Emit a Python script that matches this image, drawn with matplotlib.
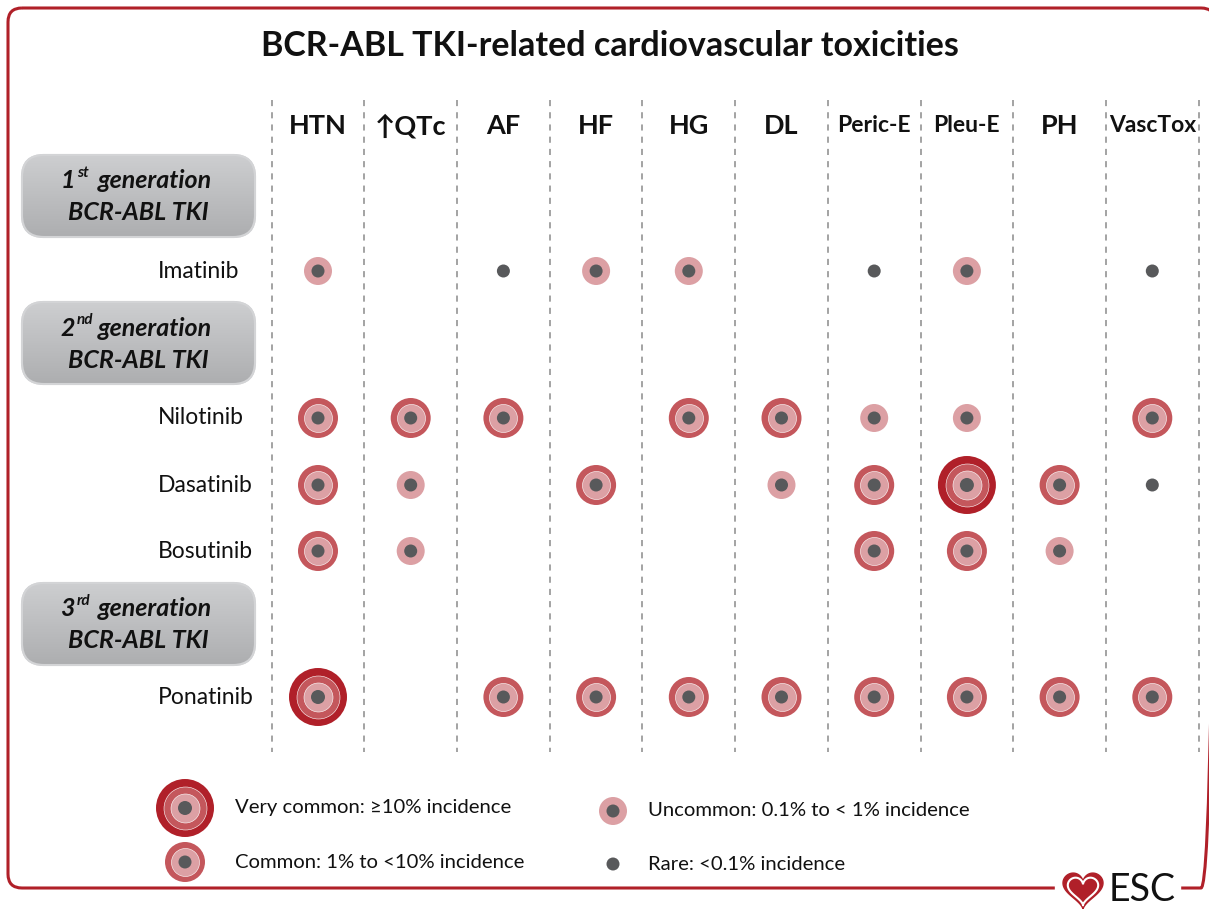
import numpy as np
import matplotlib.pyplot as plt
from matplotlib.patches import FancyBboxPatch, Rectangle, Polygon
from matplotlib.colors import LinearSegmentedColormap

plt.rcParams['font.family'] = ['Lato', 'DejaVu Sans']

drugs = ['Imatinib', 'Nilotinib', 'Dasatinib', 'Bosutinib', 'Ponatinib']
toxicities = ['HTN', '\u2191QTc', 'AF', 'HF', 'HG', 'DL', 'Peric-E', 'Pleu-E', 'PH', 'VascTox']
# 0 = none, 1 = rare, 2 = uncommon, 3 = common, 4 = very common
imatinib = [2, 0, 1, 2, 2, 0, 1, 2, 0, 1]
nilotinib = [3, 3, 3, 0, 3, 3, 2, 2, 0, 3]
dasatinib = [3, 2, 0, 3, 0, 2, 3, 4, 3, 1]
bosutinib = [3, 2, 0, 0, 0, 0, 3, 3, 2, 0]
ponatinib = [4, 0, 3, 3, 3, 3, 3, 3, 3, 3]
levels = [imatinib, nilotinib, dasatinib, bosutinib, ponatinib]
groups = [('1', 'st'), ('2', 'nd'), ('3', 'rd')]
legend_labels = ['Rare: <0.1% incidence', 'Uncommon: 0.1% to < 1% incidence',
                 'Common: 1% to <10% incidence', 'Very common: \u226510% incidence']

# layout (pixels)
W, H = 1209, 909
col_x0, col_dx = 318, 92.7
row_y = [271, 418, 485, 551, 697]
group_y = [196, 343, 624]
RED = '#B02029'
COMMON = '#C4575C'
PINK = '#DCA0A4'
GRAY = '#58595B'
TXT = '#111111'

fig = plt.figure(figsize=(W / 100, H / 100), dpi=100)
ax = fig.add_axes([0, 0, 1, 1])
ax.set_xlim(0, W)
ax.set_ylim(H, 0)
ax.axis('off')


def s(r):
    return (2 * r * 0.72) ** 2


def marker(x, y, lev, z=5):
    rings = {1: [(6.5, GRAY)],
             2: [(14, PINK), (6.5, GRAY)],
             3: [(20, COMMON), (14, PINK), (6.5, GRAY)],
             4: [(29, RED), (21.5, COMMON), (14.5, PINK), (7, GRAY)]}[lev]
    for i, (r, c) in enumerate(rings):
        ec = 'white' if (i > 0 and c != GRAY) else 'none'
        ax.scatter([x], [y], s=s(r), color=c, edgecolors=ec,
                   linewidths=0.4, zorder=z + i)


# frame
frame = FancyBboxPatch((8, 8), 1207, 880, boxstyle='round,pad=0,rounding_size=14',
                       fill=False, edgecolor=RED, lw=2.2, zorder=1)
ax.add_patch(frame)
ax.add_patch(Rectangle((1055, 880), 125, 20, color='white', zorder=2))

# title
ax.text(610, 46, 'BCR-ABL TKI-related cardiovascular toxicities', ha='center',
        va='center', fontsize=24.5, fontweight='bold', color=TXT)

# dashed column separators
for i in range(len(toxicities) + 1):
    x = col_x0 - col_dx / 2 + i * col_dx
    ax.plot([x, x], [100, 752], color='#8a8a8a', lw=1.1, ls=(0, (4, 4)), zorder=1)

# headers
for i, t in enumerate(toxicities):
    fs = 16.5 if t in ('Peric-E', 'Pleu-E', 'VascTox') else 19.5
    ax.text(col_x0 + i * col_dx, 126, t, ha='center', va='center', fontsize=fs,
            fontweight='bold', color=TXT)

# group boxes with gradient
grad = np.linspace(0, 1, 100).reshape(-1, 1)
gcmap = LinearSegmentedColormap.from_list('box', ['#CDCED0', '#ADAEB0'])
for (n, sup), gy in zip(groups, group_y):
    box = FancyBboxPatch((22, gy - 41), 233, 82, boxstyle='round,pad=0,rounding_size=22',
                         facecolor='#BEBFC1', edgecolor='#D3D4D6', lw=1.5, zorder=2)
    ax.add_patch(box)
    im = ax.imshow(grad, extent=(22, 255, gy + 41, gy - 41), cmap=gcmap,
                   aspect='auto', zorder=2.5)
    im.set_clip_path(box)
    ax.add_patch(FancyBboxPatch((22, gy - 41), 233, 82, boxstyle='round,pad=0,rounding_size=22',
                                fill=False, edgecolor='#D3D4D6', lw=1.5, zorder=2.6))
    ax.text(98, gy - 15, 'generation', ha='left', va='center', fontsize=18,
            fontweight='bold', style='italic', color=TXT, zorder=3)
    ax.text(75, gy - 15, n, ha='right', va='center', fontsize=18,
            fontweight='bold', style='italic', color=TXT, zorder=3)
    ax.text(77, gy - 23, sup, ha='left', va='center', fontsize=11,
            fontweight='bold', style='italic', color=TXT, zorder=3)
    ax.text(138, gy + 17, 'BCR-ABL TKI', ha='center', va='center', fontsize=18,
            fontweight='bold', style='italic', color=TXT, zorder=3)

# drug rows
for d, y, row in zip(drugs, row_y, levels):
    ax.text(158, y, d, ha='left', va='center', fontsize=16.5, color=TXT)
    for i, lev in enumerate(row):
        if lev:
            marker(col_x0 + i * col_dx, y, lev)

# legend
leg_pos = [(613, 864, 648), (613, 811, 648), (185, 862, 235), (185, 808, 235)]
for lev, ((mx, my, tx), lab) in enumerate(zip(leg_pos, legend_labels), start=1):
    marker(mx, my, lev)
    ax.text(tx, my, lab, ha='left', va='center', fontsize=14.6, color=TXT)

# ESC logo
t = np.linspace(0, 2 * np.pi, 200)
hx = 16 * np.sin(t) ** 3
hy = 13 * np.cos(t) - 5 * np.cos(2 * t) - 2 * np.cos(3 * t) - np.cos(4 * t)
ax.add_patch(Polygon(np.column_stack([1083 + hx * 1.25, 888 - hy * 1.25]),
                     closed=True, facecolor=RED, edgecolor=RED, lw=1, zorder=3))
ax.add_patch(Polygon(np.column_stack([1083 + hx * 0.95, 889 - hy * 0.95]),
                     closed=True, facecolor='none', edgecolor='white', lw=1.5, zorder=4))
ax.text(1109, 890, 'ESC', ha='left', va='center', fontsize=27, color=TXT, zorder=4)

fig.savefig('out.png', dpi=100)
